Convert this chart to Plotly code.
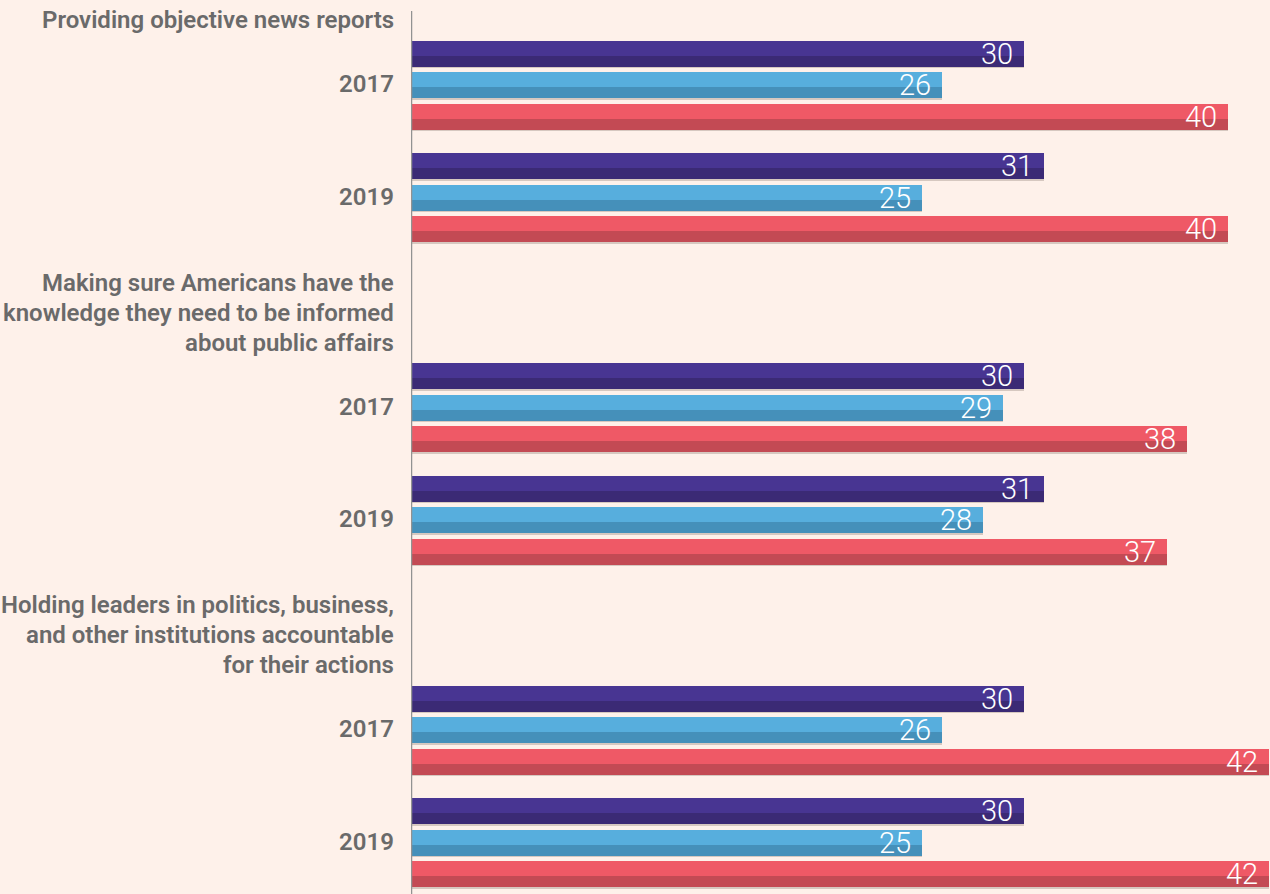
import plotly.graph_objects as go

# ---- data ----
themes = [
    ["Providing objective news reports"],
    ["Making sure Americans have the", "knowledge they need to be informed", "about public affairs"],
    ["Holding leaders in politics, business,", "and other institutions accountable", "for their actions"],
]
years = ["2017", "2019"]
series_names = ["Series 1", "Series 2", "Series 3"]
# values[series][theme][year]
values = [
    [[30, 31], [30, 31], [30, 30]],   # purple
    [[26, 25], [29, 28], [26, 25]],   # blue
    [[40, 40], [38, 37], [42, 42]],   # red
]

# ---- styling ----
light = ["#483592", "#57AEDD", "#EF5966"]
dark = ["#3B2A75", "#4590BA", "#C34A54"]
bg = "#FEF1EA"
label_color = "#6a6a6a"
W, H = 1270, 894
left = 411
px_per_unit = 20.43

# layout rhythm (pixels)
first_title = 20
title_lh = 30
title_to_bars = 65
year_step = 112.5
bars_to_next_title = 85
slot = 31.5
bar_h = 26
light_h = 15

fig = go.Figure()
annotations = []
shapes = []

label_font = dict(family="Roboto", size=24, color=label_color, weight=600)

cursor = first_title
bars = {s: {"y_l": [], "y_d": [], "y_s": [], "x": []} for s in range(3)}
for t, lines in enumerate(themes):
    for i, ln in enumerate(lines):
        annotations.append(dict(x=0, xref="paper", y=cursor + i * title_lh, yref="y",
                                text=ln, showarrow=False, xanchor="right", yanchor="middle",
                                xshift=-15, font=label_font))
    last_title = cursor + (len(lines) - 1) * title_lh
    mid = last_title + title_to_bars
    for k, yr in enumerate(years):
        ymid = mid + k * year_step
        annotations.append(dict(x=0, xref="paper", y=ymid - 1, yref="y", text=yr, showarrow=False,
                                xanchor="right", yanchor="middle", xshift=-15, font=label_font))
        for s in range(3):
            c = ymid + (s - 1) * slot
            top = c - bar_h / 2
            v = values[s][t][k]
            bars[s]["x"].append(v)
            bars[s]["y_l"].append(top + light_h / 2)
            bars[s]["y_d"].append(top + light_h + (bar_h - light_h) / 2)
            bars[s]["y_s"].append(top + bar_h + 0.6)
            annotations.append(dict(x=v, y=c, xref="x", yref="y", text=str(v), showarrow=False,
                                    xanchor="right", yanchor="middle", xshift=-9,
                                    font=dict(family="Roboto", size=29, color="white", weight=300)))
    cursor = mid + (len(years) - 1) * year_step + bars_to_next_title

for s in range(3):
    n = len(bars[s]["x"])
    fig.add_trace(go.Bar(x=bars[s]["x"], y=bars[s]["y_s"], orientation="h", width=[1.2] * n,
                         marker=dict(color="#d6c8c0", line=dict(width=0)), showlegend=False,
                         hoverinfo="skip"))
    fig.add_trace(go.Bar(x=bars[s]["x"], y=bars[s]["y_l"], orientation="h",
                         width=[light_h] * n, name=series_names[s],
                         marker=dict(color=light[s], line=dict(width=0)), showlegend=False))
    fig.add_trace(go.Bar(x=bars[s]["x"], y=bars[s]["y_d"], orientation="h",
                         width=[bar_h - light_h] * n, name=series_names[s],
                         marker=dict(color=dark[s], line=dict(width=0)), showlegend=False,
                         hoverinfo="skip"))

shapes.append(dict(type="line", xref="x", yref="y", x0=0, x1=0, y0=11, y1=H,
                   line=dict(color="#929292", width=2.5)))

fig.update_layout(
    width=W, height=H, barmode="overlay",
    paper_bgcolor=bg, plot_bgcolor=bg,
    margin=dict(l=left, r=0, t=0, b=0),
    xaxis=dict(range=[0, (W - left) / px_per_unit], visible=False, fixedrange=True),
    yaxis=dict(range=[H, 0], visible=False, fixedrange=True),
    annotations=annotations, shapes=shapes, bargap=0,
)
fig.write_html("out.html", config={"displayModeBar": False},
               post_script="document.body.style.margin='0';document.body.style.background='%s';" % bg)
